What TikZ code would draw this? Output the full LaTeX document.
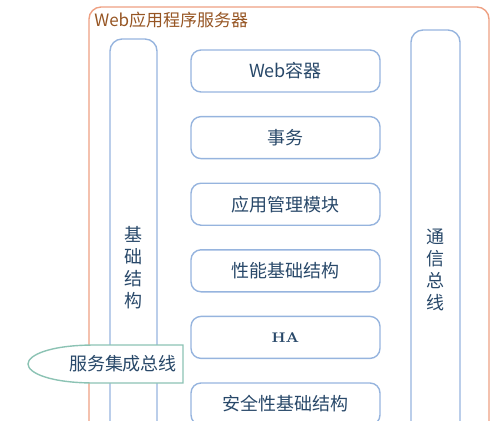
\documentclass[tikz,border=0pt]{standalone}
\usepackage{fontspec}
\newfontfamily\cjk{Noto Sans CJK SC}
\usetikzlibrary{positioning}
\definecolor{framecol}{RGB}{238,160,130}
\definecolor{boxcol}{RGB}{150,180,222}
\definecolor{textcol}{RGB}{40,72,105}
\definecolor{titlecol}{RGB}{150,85,35}
\definecolor{buscol}{RGB}{140,195,180}
\tikzset{
  % module box in the middle
  modbox/.style={rectangle, rounded corners=5pt, draw=boxcol, line width=0.7pt,
                 minimum width=94.5pt, minimum height=21pt, inner sep=0pt,
                 font=\cjk\fontsize{9}{10}\selectfont, text=textcol},
  % tall side column
  sidecol/.style={draw=boxcol, line width=0.7pt, rounded corners=6pt},
  % stacked column text
  coltext/.style={font=\cjk\fontsize{9}{11}\selectfont, text=textcol, align=center, inner sep=0pt},
}

\begin{document}
\begin{tikzpicture}[x=0.5pt,y=-0.5pt]
  \useasboundingbox (0,0) rectangle (500,420);
  \clip (0,0) rectangle (500,420);

  % server frame
  \draw[framecol, line width=0.7pt, rounded corners=6pt] (89,7) rectangle (489,470);
  \node[anchor=west, inner sep=0pt, font=\cjk\fontsize{8.5}{10}\selectfont, text=titlecol] (title) at (94,20) {Web应用程序服务器};

  % side columns
  \draw[sidecol] (110,39) rectangle (157,470);
  \draw[sidecol] (411,30) rectangle (460,470);
  \node[coltext] (infra) at (133.5,268) {基\\础\\结\\构};
  \node[coltext] (comm) at (435.5,270) {通\\信\\总\\线};

  % modules
  \node[modbox] (web) at (285.5,71) {Web容器};
  \node[modbox, below=11.6pt of web] (trans) {事务};
  \node[modbox, below=11.6pt of trans] (appmgr) {应用管理模块};
  \node[modbox, below=11.6pt of appmgr] (perf) {性能基础结构};
  \node[modbox, below=11.6pt of perf, font=\rmfamily\bfseries\fontsize{7}{8}\selectfont] (ha) {HA};
  \node[modbox, below=11.6pt of ha] (sec) {安全性基础结构};

  % service bus
  \draw[buscol, fill=white, line width=0.7pt] (183,345) -- (95,345)
    .. controls (50,345) and (28,355) .. (28,364)
    .. controls (28,373) and (50,383) .. (95,383) -- (183,383) -- cycle;
  \node[inner sep=0pt, font=\cjk\fontsize{9}{10}\selectfont, text=textcol] (bus) at (123,364) {服务集成总线};
\end{tikzpicture}
\end{document}
